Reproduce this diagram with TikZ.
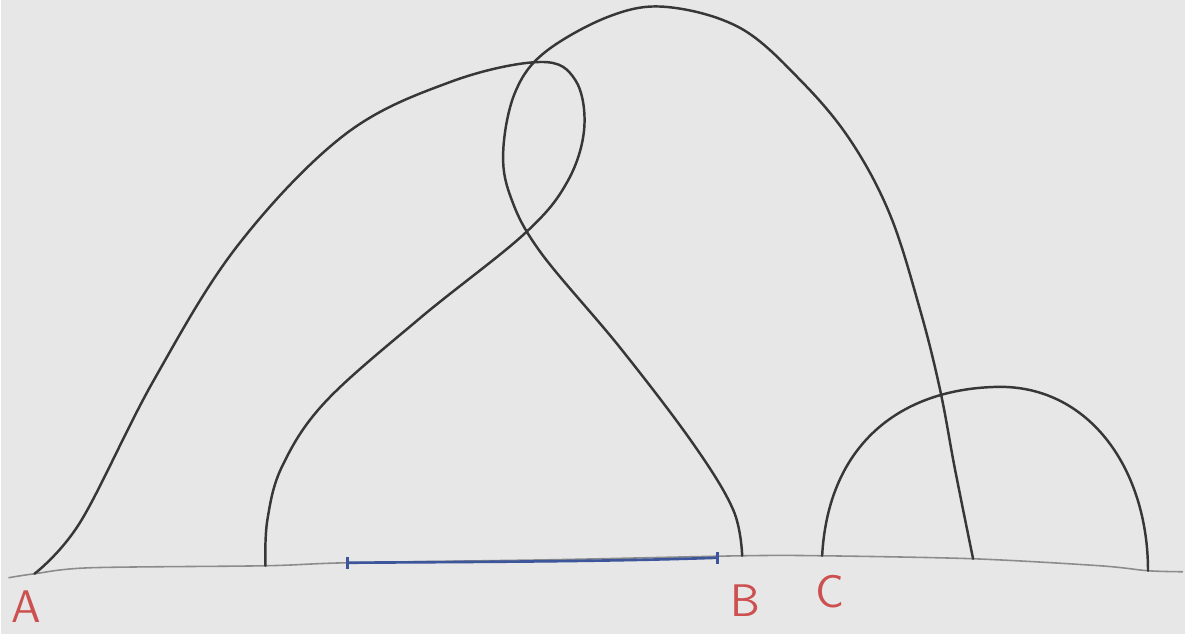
\documentclass[tikz,border=0pt]{standalone}
\definecolor{paper}{RGB}{231,231,231}
\definecolor{pencil}{RGB}{55,55,55}
\definecolor{groundgray}{RGB}{140,140,140}
\definecolor{bluepen}{RGB}{60,85,155}
\definecolor{redpen}{RGB}{205,80,80}
\begin{document}
\begin{tikzpicture}[x=0.01cm, y=-0.01cm,
        curve/.style={line width=0.7pt, draw=pencil, line cap=round},
        ground/.style={line width=0.45pt, draw=groundgray},
        bar/.style={line width=0.75pt, draw=bluepen},
        lab/.style={text=redpen, font=\fontsize{13}{13}\sffamily}]
            \fill[paper] (0,0) rectangle (1185,634);

            % feet on the ground line
            \coordinate (footA) at (34,574);
            \coordinate (footP) at (265,566);
            \coordinate (footB) at (742,556);
            \coordinate (footC) at (822,556);
            \coordinate (footQ) at (973,559);
            \coordinate (footR) at (1148,571);

            \draw[ground] plot[smooth] coordinates {(8,578) (footA) (90,568) (footP) (347,563) (550,560) (footB) (footC) (footQ) (1100,566) (footR) (1183,572)};

            % blue segment
            \coordinate (barL) at (347,563);
            \coordinate (barR) at (717,558);
            \draw[bar] (barL) .. controls (480,562) and (600,562) .. (barR);
            \draw[bar] (barL) ++(0,-6) -- ++(0,12);
            \draw[bar] (barR) ++(0,-6) -- ++(0,12);

            % left arch with loop
            \draw[curve] plot[smooth, tension=0.6] coordinates {(footA) (80,522) (153,381) (237,246) (344,135) (450,82) (540,62) (575,80) (584,128) (567,182) (524,234) (420,318) (325,402) (282,466) (267,520) (footP)};

            % big arch from B
            \draw[curve] plot[smooth, tension=0.6] coordinates {(footB) (733,510) (693,444) (620,348) (540,252) (510,196) (503,150) (515,92) (545,52) (610,16) (667,7) (740,28) (800,80) (850,140) (890,215) (920,310) (940,390) (955,470) (footQ)};

            % small arch from C
            \draw[curve] (footC) .. controls (828,445) and (900,388) .. (1000,387)
                .. controls (1090,387) and (1148,470) .. (footR);

            \node[lab] (labA) at (26,607) {A};
            \node[lab] (labB) at (745,601) {B};
            \node[lab] (labC) at (830,592) {C};
        \end{tikzpicture}
\end{document}
